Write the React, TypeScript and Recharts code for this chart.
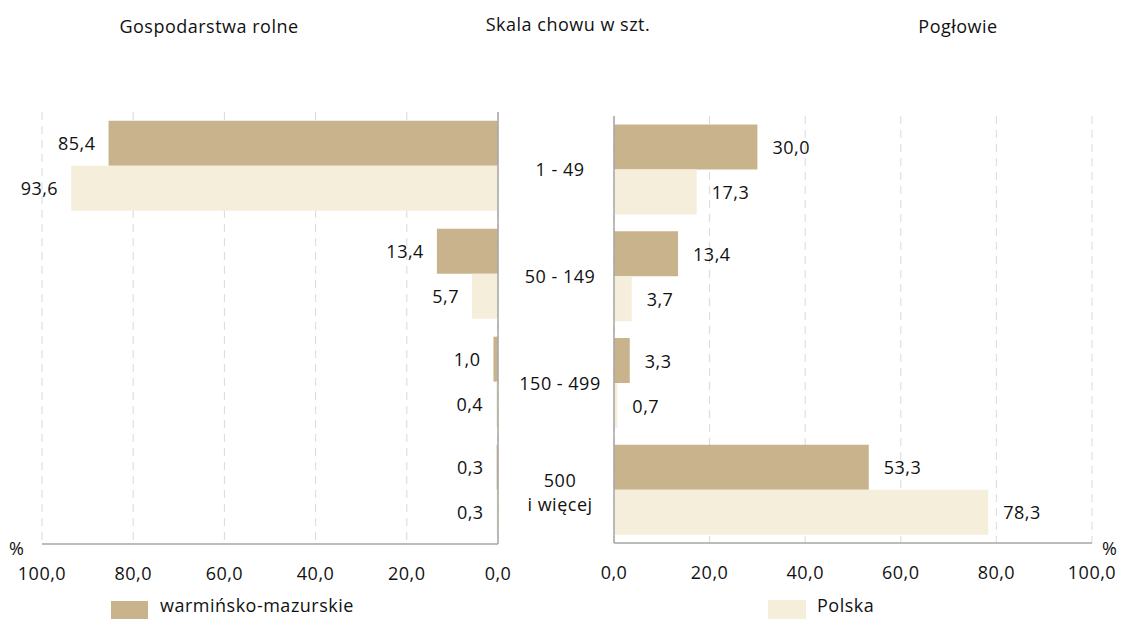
import { BarChart, Bar, XAxis, YAxis, CartesianGrid, LabelList } from "recharts";

const categories = ["1 - 49", "50 - 149", "150 - 499", "500\ni więcej"];
const farmsWarmia = [85.4, 13.4, 1.0, 0.3];
const farmsPoland = [93.6, 5.7, 0.4, 0.3];
const herdWarmia = [30.0, 13.4, 3.3, 53.3];
const herdPoland = [17.3, 3.7, 0.7, 78.3];
const ticks = [0, 20, 40, 60, 80, 100];

const WARM = "#C9B38C";
const POL = "#F5EEDB";
const AXIS = "#A6A6A6";
const GRID = "#D9D9D9";
const FONT = "'Open Sans', sans-serif";
const FS = 18;
const LS = 0.5;

const fmt = (v: number) => v.toFixed(1).replace(".", ",");

const farmData = categories.map((cat, i) => ({ cat, wm: farmsWarmia[i], pl: farmsPoland[i] }));
const herdData = categories.map((cat, i) => ({ cat, wm: herdWarmia[i], pl: herdPoland[i] }));

const LeftLabel = (p: any) => {
    const left = Math.min(p.x, p.x + p.width);
    return (
        <text x={left - 13} y={p.y + p.height / 2} textAnchor="end" dominantBaseline="central"
            fontSize={FS} letterSpacing={LS} fontFamily={FONT} fill="#111">{fmt(p.value)}</text>
    );
};

const RightLabel = (p: any) => {
    const right = Math.max(p.x, p.x + p.width);
    return (
        <text x={right + 15} y={p.y + p.height / 2} textAnchor="start" dominantBaseline="central"
            fontSize={FS} letterSpacing={LS} fontFamily={FONT} fill="#111">{fmt(p.value)}</text>
    );
};

const CatTick = (p: any) => {
    const lines = String(p.payload.value).split("\n");
    const offs = lines.length > 1 ? [-10, 14] : [0];
    return (
        <g>
            {lines.map((l, i) => (
                <text key={i} x={60} y={p.y + offs[i]} textAnchor="middle" dominantBaseline="central"
                    fontSize={FS} letterSpacing={LS} fontFamily={FONT} fill="#111">{l}</text>
            ))}
        </g>
    );
};

const tickStyle = { fontSize: FS, fontFamily: FONT, fill: "#111", letterSpacing: LS };

const abs = (left: number, top: number, extra: any = {}) => ({
    position: "absolute" as const, left, top, fontFamily: FONT, fontSize: FS, color: "#111",
    letterSpacing: LS, whiteSpace: "nowrap" as const, lineHeight: "20px", ...extra,
});

export default function App() {
    return (
        <div style={{ position: "absolute", left: 0, top: 0, width: 1122, height: 619, background: "#fff", overflow: "hidden" }}>
            <style>{"svg.recharts-surface{overflow:visible}"}</style>
            <div style={abs(209, 16, { transform: "translateX(-50%)" })}>Gospodarstwa rolne</div>
            <div style={abs(568, 14, { transform: "translateX(-50%)" })}>Skala chowu w szt.</div>
            <div style={abs(958, 16, { transform: "translateX(-50%)" })}>Pogłowie</div>

            <div style={{ position: "absolute", left: 0, top: 0 }}>
                <BarChart width={500} height={619} data={farmData} layout="vertical"
                    margin={{ top: 112, right: 1, bottom: 45, left: 42 }}
                    barCategoryGap="8%" barGap={0}>
                    <CartesianGrid horizontal={false} stroke={GRID} strokeDasharray="8 6" />
                    <XAxis type="number" domain={[0, 100]} ticks={ticks} reversed height={30}
                        tickFormatter={fmt} tickLine={false} tickMargin={17} interval={0}
                        axisLine={{ stroke: AXIS, strokeWidth: 1.5 }} tick={tickStyle} />
                    <YAxis type="category" dataKey="cat" orientation="right" width={1} tick={false}
                        tickLine={false} axisLine={{ stroke: AXIS, strokeWidth: 1.5 }} />
                    <Bar dataKey="wm" fill={WARM} isAnimationActive={false}>
                        <LabelList dataKey="wm" content={LeftLabel} />
                    </Bar>
                    <Bar dataKey="pl" fill={POL} isAnimationActive={false}>
                        <LabelList dataKey="pl" content={LeftLabel} />
                    </Bar>
                </BarChart>
            </div>

            <div style={{ position: "absolute", left: 500, top: 0 }}>
                <BarChart width={622} height={619} data={herdData} layout="vertical"
                    margin={{ top: 116, right: 30, bottom: 46, left: 0 }}
                    barCategoryGap="8%" barGap={0}>
                    <CartesianGrid horizontal={false} stroke={GRID} strokeDasharray="8 6" />
                    <XAxis type="number" domain={[0, 100]} ticks={ticks} height={30}
                        tickFormatter={fmt} tickLine={false} tickMargin={17} interval={0}
                        axisLine={{ stroke: AXIS, strokeWidth: 1.5 }} tick={tickStyle} />
                    <YAxis type="category" dataKey="cat" width={114} tick={<CatTick />}
                        tickLine={false} axisLine={{ stroke: AXIS, strokeWidth: 1.5 }} />
                    <Bar dataKey="wm" fill={WARM} isAnimationActive={false}>
                        <LabelList dataKey="wm" content={RightLabel} />
                    </Bar>
                    <Bar dataKey="pl" fill={POL} isAnimationActive={false}>
                        <LabelList dataKey="pl" content={RightLabel} />
                    </Bar>
                </BarChart>
            </div>

            <div style={abs(9, 538)}>%</div>
            <div style={abs(1102, 538)}>%</div>

            <div style={{ position: "absolute", left: 111, top: 601, width: 37, height: 20, background: WARM }} />
            <div style={abs(160, 595)}>warmińsko-mazurskie</div>
            <div style={{ position: "absolute", left: 768, top: 600, width: 38, height: 20, background: POL }} />
            <div style={abs(817, 595)}>Polska</div>
        </div>
    );
}
